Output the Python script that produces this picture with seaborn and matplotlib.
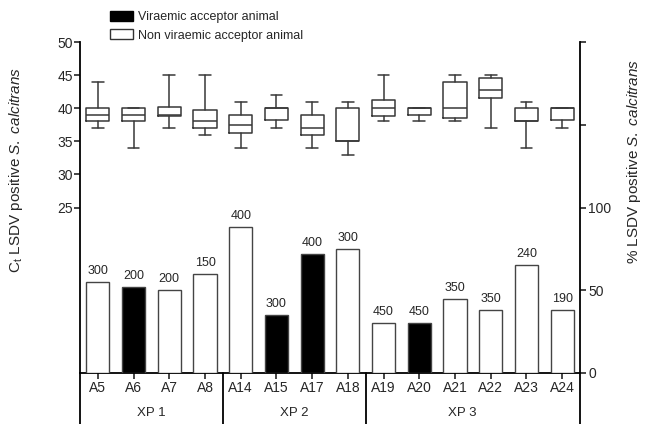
import numpy as np
import pandas as pd
import matplotlib
matplotlib.use('Agg')
import matplotlib.pyplot as plt
from matplotlib.patches import Patch
import seaborn as sns

# animals and status (V = viraemic acceptor, N = non viraemic acceptor)
animals = ['A5', 'A6', 'A7', 'A8', 'A14', 'A15', 'A17', 'A18',
           'A19', 'A20', 'A21', 'A22', 'A23', 'A24']
status = ['N', 'V', 'N', 'N', 'N', 'V', 'V', 'N',
          'N', 'V', 'N', 'N', 'N', 'N']
# % LSDV positive S. calcitrans (bars, right axis)
pct_pos = [55, 52, 50, 60, 88, 35, 72, 75, 30, 30, 45, 38, 65, 38]
# number of flies tested (labels above bars)
n_flies = [300, 200, 200, 150, 400, 300, 400, 300, 450, 450, 350, 350, 240, 190]

# Ct box plots (left axis)
ct_min = [37, 34, 37, 36, 34, 37, 34, 33, 38, 38, 38, 37, 34, 37]
ct_q1 = [38, 38, 38.75, 37, 36.25, 38.25, 36, 35, 38.75, 39, 38.5, 41.5, 38, 38.25]
ct_med = [39, 39, 39, 38, 37.5, 40, 37, 35, 40, 40, 40, 42.75, 38, 40]
ct_q3 = [40, 40, 40.25, 39.75, 39, 40, 39, 40, 41.25, 40, 44, 44.5, 40, 40]
ct_max = [44, 40, 45, 45, 41, 42, 41, 41, 45, 40, 45, 45, 41, 40]

groups = ['XP 1', 'XP 2', 'XP 3']
group_centers = [1.5, 5.5, 10.2]
group_edges = [-0.5, 3.5, 7.5, 13.5]

sns.set_style('ticks')
plt.rcParams['font.family'] = ['Liberation Sans', 'DejaVu Sans']
plt.rcParams['mathtext.fontset'] = 'custom'
plt.rcParams['mathtext.rm'] = 'Liberation Sans'
plt.rcParams['mathtext.it'] = 'Liberation Sans:italic'

fig = plt.figure(figsize=(6.46, 4.24), dpi=100)
ax = fig.add_axes([80/646, 1-373/424, 500/646, 331/424])

line_col = '#383838'
stats = []
for i in range(len(animals)):
    stats.append(dict(whislo=ct_min[i], q1=ct_q1[i], med=ct_med[i],
                      q3=ct_q3[i], whishi=ct_max[i], fliers=[]))
props = dict(color=line_col, linewidth=1.1)
ax.bxp(stats, positions=list(range(len(animals))), widths=0.65,
       showfliers=False, boxprops=props, medianprops=props,
       whiskerprops=props, capprops=props)

ax2 = ax.twinx()
df = pd.DataFrame({'animal': animals, 'pct': pct_pos, 'status': status})
sns.barplot(data=df, x='animal', y='pct', hue='status', dodge=False,
            palette={'V': 'black', 'N': 'white'}, edgecolor='#444444',
            linewidth=1.0, width=0.65, legend=False, ax=ax2)
for i, (p, n) in enumerate(zip(pct_pos, n_flies)):
    ax2.text(i, p + 3, str(n), ha='center', va='bottom', fontsize=9)

ax.set_xlim(-0.5, 13.5)
ax.set_ylim(0, 50)
ax.set_yticks([25, 30, 35, 40, 45, 50])
ax2.set_ylim(0, 200)
ax2.set_yticks([0, 50, 100, 150, 200], ['0', '50', '100', '', ''])
ax.set_xticks(range(len(animals)), animals)
ax2.set_xlabel('')
ax2.set_ylabel('')

for a in (ax, ax2):
    a.spines['top'].set_visible(False)
    for s in a.spines.values():
        s.set_linewidth(1.3)
        s.set_color('black')
ax.spines['right'].set_visible(False)
ax2.spines['left'].set_visible(False)
ax2.spines['bottom'].set_visible(False)
ax.spines['left'].set_bounds(0, 50)

ax.tick_params(axis='y', labelsize=10, length=4, width=1.2, pad=1)
ax.tick_params(axis='x', labelsize=10, length=4, width=1.2, pad=2)
ax2.tick_params(axis='y', labelsize=10, length=4, width=1.2, pad=2)

# group separators and labels below the axis
tr = ax.get_xaxis_transform()
for x in group_edges:
    ax.plot([x, x], [0, -0.16], color='black', lw=1.3, transform=tr,
            clip_on=False)
for g, c in zip(groups, group_centers):
    ax.text(c, -0.12, g, transform=tr, ha='center', va='center', fontsize=9.5)

fig.text(0.024, 0.6, r'C$_\mathregular{t}$ LSDV positive $\mathit{S.\ calcitrans}$',
         rotation=90, ha='center', va='center', fontsize=11)
fig.text(0.981, 0.62, r'% LSDV positive $\mathit{S.\ calcitrans}$',
         rotation=90, ha='center', va='center', fontsize=11)

handles = [Patch(facecolor='black', edgecolor='black', label='Viraemic acceptor animal'),
           Patch(facecolor='white', edgecolor='#333333', label='Non viraemic acceptor animal')]
fig.legend(handles=handles, loc='upper left', bbox_to_anchor=(110/646, 1-11/424),
           frameon=False, fontsize=9, handlelength=1.85, handleheight=0.8,
           handletextpad=0.35, labelspacing=0.5, borderpad=0, borderaxespad=0)

fig.savefig('out.png', dpi=100)
